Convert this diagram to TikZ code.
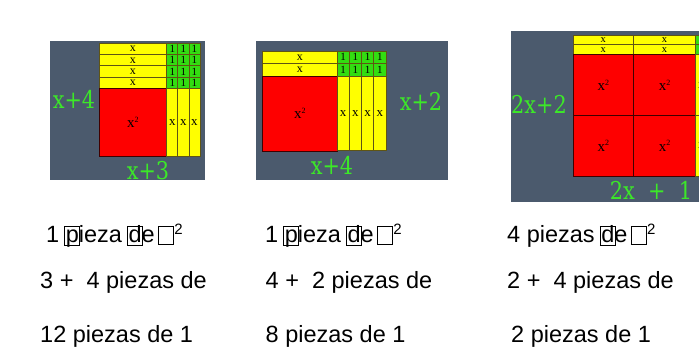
\documentclass[tikz,border=0pt]{standalone}
\usepackage{fontspec}
\setmainfont{Liberation Sans}
\newfontfamily\tilefont{Liberation Serif}
\newfontfamily\lblfont{DejaVu Serif}[FakeStretch=0.85]
\definecolor{slate}{RGB}{75,90,109}
\definecolor{tileY}{RGB}{255,255,0}
\definecolor{tileG}{RGB}{51,221,17}
\definecolor{tileR}{RGB}{254,0,0}
\definecolor{lblG}{RGB}{60,232,40}
\definecolor{edgeY}{RGB}{95,85,20}
\newcommand\fs[1]{\fontsize{#1}{#1}\selectfont}
\newcommand\xsq{{\fs{15}x\raisebox{5.5pt}{\fs{8}2}}}
\newcommand\missg{\rlap{\kern-1.5pt\raisebox{-2.5pt}{\fboxsep=0pt\fboxrule=0.9pt\framebox{\rule{0pt}{19pt}\hspace{14pt}}}}}
\newcommand\sqtwo{\hspace{3.5pt}\raisebox{-1.5pt}{\fboxsep=0pt\fboxrule=0.9pt\framebox{\rule{0pt}{18pt}\hspace{14pt}}}\kern0.5pt\raisebox{8pt}{\fs{15}2}}
\newcommand\tile[7]{\draw[#2] ({#3},{#4}) rectangle ({#5},{#6}); \node[tilelbl] (#1) at ({(#3+#5)/2},{(#4+#6)/2}) {#7};}
\tikzset{
  panel/.style={fill=slate, draw=none},
  yt/.style={fill=tileY, draw=edgeY, line width=0.8pt},
  gt/.style={fill=tileG, draw=edgeY, line width=0.8pt},
  rt/.style={fill=tileR, draw=black!75!red, line width=0.8pt},
  tilelbl/.style={inner sep=0pt, font=\tilefont\fs{12}, text=black},
  dimlbl/.style={inner sep=0pt, font=\lblfont\fontsize{24.5}{26}\selectfont, text=lblG},
  txt/.style={inner sep=0pt, anchor=base west, font=\fontsize{23.5}{28}\selectfont, text=black}
}
\begin{document}
\begin{tikzpicture}[x=1pt,y=-1pt]
\useasboundingbox (0,0) rectangle (699,363);
\fill[white] (0,0) rectangle (699,363);
\clip (0,0) rectangle (699,363);
% ---------- panel 1 ----------
\fill[panel] (49.5,41.5) rectangle (204.5,180);
\foreach \i in {0,...,3}{
  \tile{p1y\i}{yt}{99}{43.3+11.3*\i}{166.7}{43.3+11.3*(\i+1)}{x}
  \foreach \j in {0,1,2}{
    \tile{p1g\i\j}{gt}{166.7+11.1*\j}{43.3+11.3*\i}{166.7+11.1*(\j+1)}{43.3+11.3*(\i+1)}{\fs{11}1}
  }
}
\tile{p1r}{rt}{99}{88.5}{166.7}{156}{\xsq}
\foreach \j in {0,1,2}{
  \tile{p1v\j}{yt}{166.7+11.1*\j}{88.5}{166.7+11.1*(\j+1)}{156}{\fs{13}x}
}
\node[dimlbl] (p1h) at (74,99) {x+4};
\node[dimlbl] (p1w) at (148,171) {x+3};
% ---------- panel 2 ----------
\fill[panel] (256,41.5) rectangle (448,180);
\foreach \i in {0,1}{
  \tile{p2y\i}{yt}{262.6}{51+12.5*\i}{337}{51+12.5*(\i+1)}{x}
  \foreach \j in {0,...,3}{
    \tile{p2g\i\j}{gt}{337+12.25*\j}{51+12.5*\i}{337+12.25*(\j+1)}{51+12.5*(\i+1)}{\fs{11}1}
  }
}
\tile{p2r}{rt}{262.6}{76}{337}{151}{\xsq}
\foreach \j in {0,...,3}{
  \tile{p2v\j}{yt}{337+12.25*\j}{76}{337+12.25*(\j+1)}{150.5}{\fs{13}x}
}
\node[dimlbl] (p2h) at (421,101) {x+2};
\node[dimlbl] (p2w) at (332,165) {x+4};
% ---------- panel 3 ----------
\fill[panel] (511,31) rectangle (710,202.5);
\foreach \i in {0,1}{
  \tile{p3ya\i}{yt}{573}{35+9.9*\i}{633.5}{35+9.9*(\i+1)}{\fs{10.5}x}
  \tile{p3yb\i}{yt}{633.5}{35+9.9*\i}{695.5}{35+9.9*(\i+1)}{\fs{10.5}x}
  \draw[gt] (695.5,{35+9.9*\i}) rectangle (707,{35+9.9*(\i+1)});
}
\tile{p3r1}{rt}{573}{54.8}{633.5}{115.7}{\xsq}
\tile{p3r2}{rt}{633.5}{54.8}{695.5}{115.7}{\xsq}
\tile{p3r3}{rt}{573}{115.7}{633.5}{176}{\xsq}
\tile{p3r4}{rt}{633.5}{115.7}{695.5}{176}{\xsq}
\tile{p3v1}{yt}{695.5}{54.8}{707}{115.7}{\fs{13}x}
\tile{p3v2}{yt}{695.5}{115.7}{707}{176}{\fs{13}x}
\node[dimlbl] (p3h) at (539,104) {2x+2};
\node[dimlbl] (p3w) at (651,190) {2x\ \ +\ \ 1};
% ---------- texts ----------
\node[txt] (t11) at (46,243) {1 \missg pieza \missg de\sqtwo};
\node[txt] (t12) at (40,289) {3 +\ \ 4 piezas de};
\node[txt] (t13) at (40,343) {12 piezas de 1};
\node[txt] (t21) at (265,243) {1 \missg pieza \missg de\sqtwo};
\node[txt] (t22) at (265.5,289) {4 +\ \ 2 piezas de};
\node[txt] (t23) at (265.5,343) {8 piezas de 1};
\node[txt] (t31) at (507,243) {4 piezas \missg de\sqtwo};
\node[txt] (t32) at (507,289) {2 +\ \ 4 piezas de};
\node[txt] (t33) at (511,343) {2 piezas de 1};
\end{tikzpicture}
\end{document}
